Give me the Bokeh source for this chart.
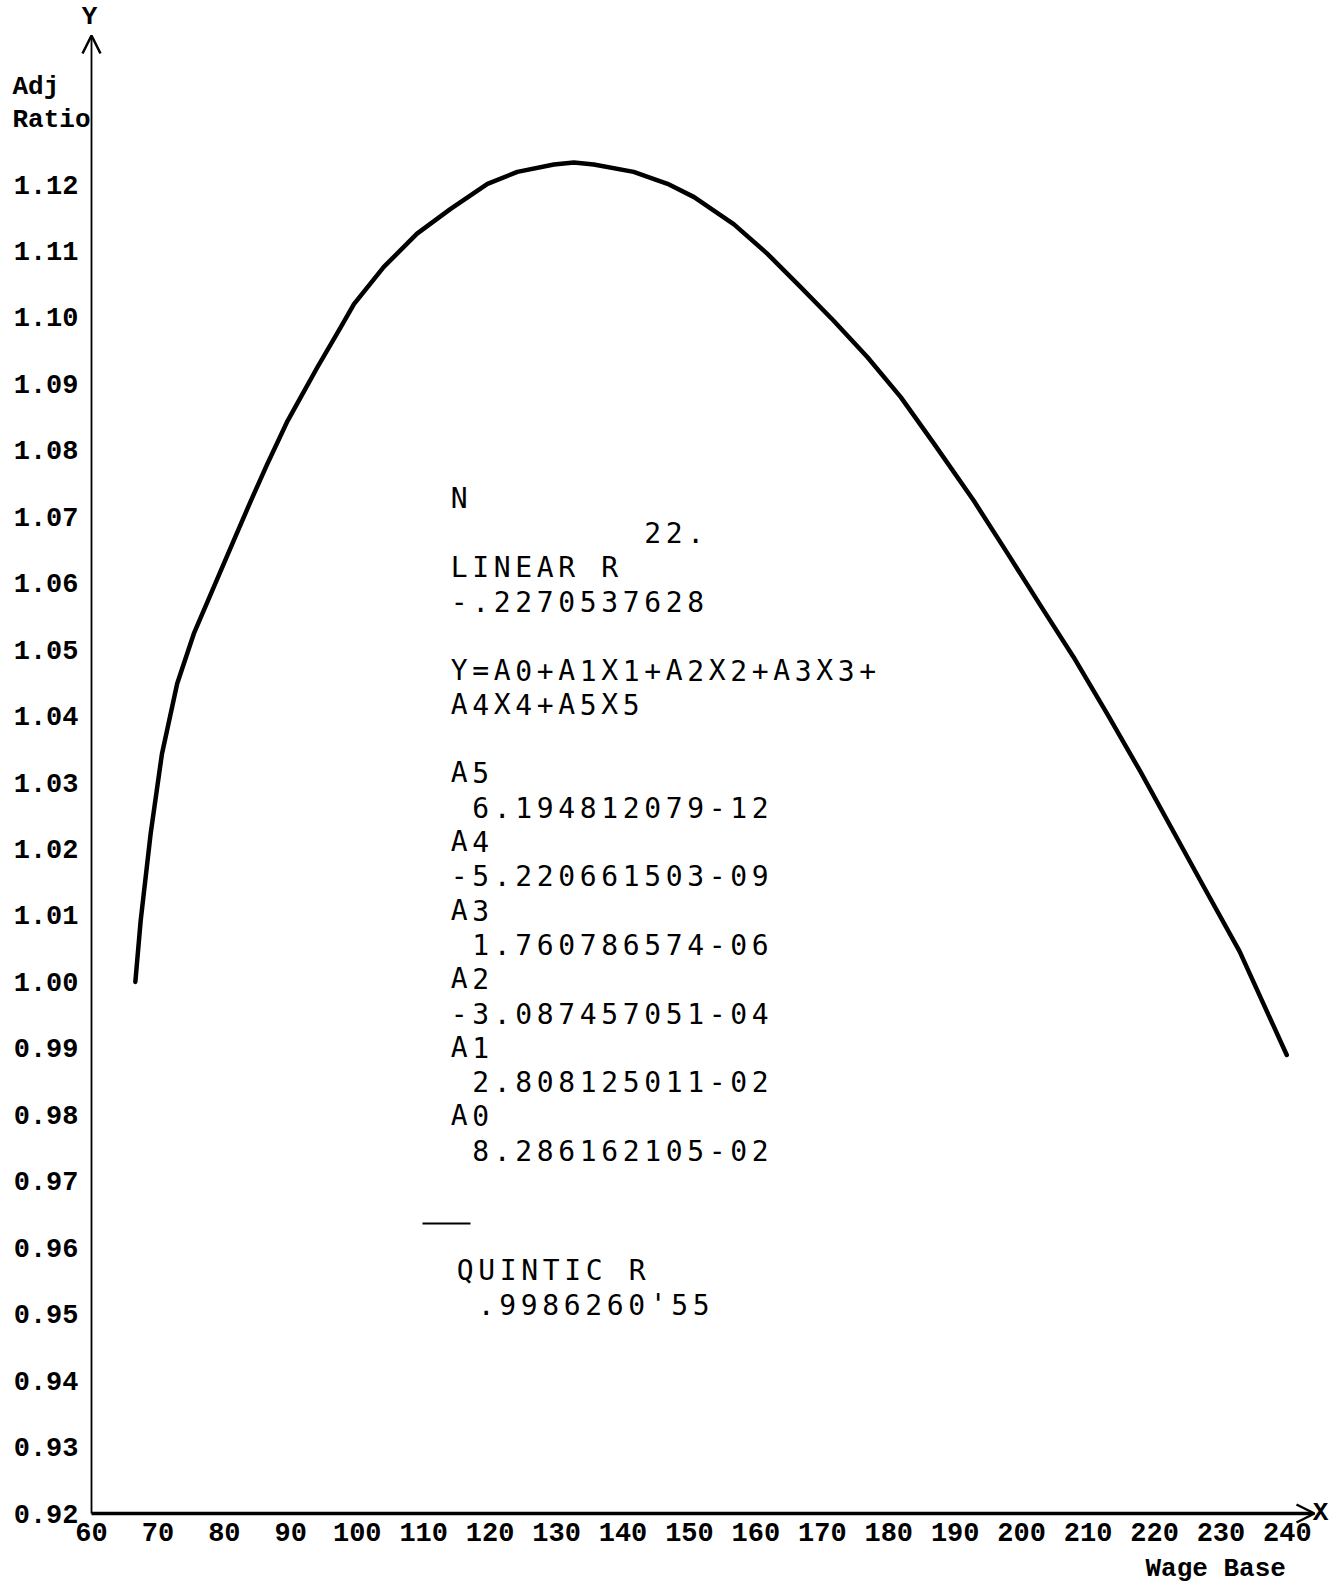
from bokeh.plotting import figure
from bokeh.models import (Range1d, FixedTicker, PrintfTickFormatter, Label,
                          Arrow, OpenHead, ColumnDataSource)
from bokeh.core.properties import value
from bokeh.embed import file_html
from bokeh.resources import INLINE

# ---------------- data ----------------
wage_base = [66.6, 67.4, 68.9, 70.6, 72.9, 75.4, 78.4, 81.4, 83.9, 86.4,
             89.5, 91.5, 94.0, 97.5, 99.5, 104.0, 109.0, 114.0, 119.6, 124.1,
             129.6, 132.6, 135.6, 141.6, 146.7, 150.7, 156.7, 161.7, 166.7,
             171.7, 176.8, 181.8, 186.8, 192.8, 197.8, 202.8, 207.8, 212.9,
             217.9, 227.2, 232.8, 239.9]
adj_ratio = [1.0000, 1.0092, 1.0223, 1.0343, 1.0449, 1.0524, 1.0594, 1.0664,
             1.0722, 1.0778, 1.0844, 1.0880, 1.0925, 1.0985, 1.1020, 1.1076,
             1.1126, 1.1163, 1.1201, 1.1219, 1.1230, 1.1233, 1.1230, 1.1219,
             1.1201, 1.1181, 1.1140, 1.1096, 1.1046, 1.0995, 1.0940, 1.0880,
             1.0810, 1.0724, 1.0646, 1.0567, 1.0489, 1.0403, 1.0316, 1.0147,
             1.0046, 0.9890]

x_ticks = list(range(60, 241, 10))
y_ticks = [0.92, 0.93, 0.94, 0.95, 0.96, 0.97, 0.98, 0.99, 1.00, 1.01, 1.02,
           1.03, 1.04, 1.05, 1.06, 1.07, 1.08, 1.09, 1.10, 1.11, 1.12]

printout_lines = [
    "N",
    "         22.",
    "LINEAR R",
    "-.2270537628",
    "",
    "Y=A0+A1X1+A2X2+A3X3+",
    "A4X4+A5X5",
    "",
    "A5",
    " 6.194812079-12",
    "A4",
    "-5.220661503-09",
    "A3",
    " 1.760786574-06",
    "A2",
    "-3.087457051-04",
    "A1",
    " 2.808125011-02",
    "A0",
    " 8.286162105-02",
]
quintic_lines = ["QUINTIC R", ".9986260'55"]

# ---------------- geometry (pixel <-> data) ----------------
W, H = 1336, 1585
AX_X_PX, AX_Y_PX = 91, 1513      # where x=60 and y=0.92 sit on the page
PX_PER_X = 6.644                 # pixels per wage-base unit
PX_PER_Y = 6645.0                # pixels per ratio unit
X0, Y0 = 60, 0.92


def px2x(px):
    return X0 + (px - AX_X_PX) / PX_PER_X


def py2y(py):
    return Y0 + (AX_Y_PX - py) / PX_PER_Y


p = figure(width=W, height=H,
           x_range=Range1d(px2x(0), px2x(W)), y_range=Range1d(py2y(H), py2y(0)),
           output_backend="svg", toolbar_location=None, min_border=0)
p.outline_line_color = None
p.grid.visible = False
p.background_fill_color = "white"
p.border_fill_color = "white"

TICK_FONT = "Liberation Mono"
for ax in (p.xaxis[0], p.yaxis[0]):
    ax.axis_line_color = None
    ax.major_tick_line_color = None
    ax.minor_tick_line_color = None
    ax.major_label_text_font = TICK_FONT
    ax.major_label_text_font_style = "bold"
    ax.major_label_text_font_size = "27px"
    ax.major_label_text_color = "black"

p.xaxis.fixed_location = Y0
p.yaxis.fixed_location = X0
p.xaxis.ticker = FixedTicker(ticks=x_ticks)
p.xaxis.major_label_standoff = 3
p.yaxis.ticker = FixedTicker(ticks=y_ticks)
p.yaxis.formatter = PrintfTickFormatter(format="%.2f")
p.yaxis.major_label_standoff = 7

# axis lines with open arrow heads
p.add_layout(Arrow(end=OpenHead(size=18, line_width=2.5, line_color="black"),
                   x_start=X0, y_start=Y0, x_end=px2x(1314), y_end=Y0,
                   line_width=3.5, line_color="black"))
p.add_layout(Arrow(end=OpenHead(size=18, line_width=2.5, line_color="black"),
                   x_start=X0, y_start=Y0, x_end=X0, y_end=py2y(35),
                   line_width=1.8, line_color="black"))

# the curve
src = ColumnDataSource(dict(x=wage_base, y=adj_ratio))
p.line("x", "y", source=src, line_width=4.5, line_color="black",
       line_join="round", line_cap="round")


# axis captions
def caption(text, px, py, align="left"):
    p.add_layout(Label(x=px2x(px), y=py2y(py), text=text, text_align=align,
                       text_baseline="middle", text_font=TICK_FONT,
                       text_font_style="bold", text_font_size="26px",
                       text_color="black"))


caption("Y", 89, 16, "center")
caption("X", 1320, 1512, "center")
caption("Adj", 12, 86)
caption("Ratio", 12, 119)
caption("Wage Base", 1145, 1568)

# printout block (dot-matrix style, fixed character pitch)
PITCH = 21.5
LINE = 34.3
cx, cy, ct = [], [], []
for i, line in enumerate(printout_lines):
    ypx = 498 + i * LINE
    for j, ch in enumerate(line):
        if ch != " ":
            cx.append(px2x(448 + j * PITCH + PITCH / 2))
            cy.append(py2y(ypx))
            ct.append(ch)
for i, (line, x0) in enumerate(zip(quintic_lines, [454, 475])):
    ypx = 1270 + i * LINE
    for j, ch in enumerate(line):
        if ch != " ":
            cx.append(px2x(x0 + j * PITCH + PITCH / 2))
            cy.append(py2y(ypx))
            ct.append(ch)

p.text(x=cx, y=cy, text=ct, text_font=value("DejaVu Sans Mono"),
       text_font_size="28px", text_align="center", text_baseline="middle",
       text_color="black")

# separator dash above "QUINTIC R"
p.line([px2x(422), px2x(470)], [py2y(1223), py2y(1223)], line_width=2,
       line_color="black")

open("out.html", "w").write(file_html(p, INLINE))
